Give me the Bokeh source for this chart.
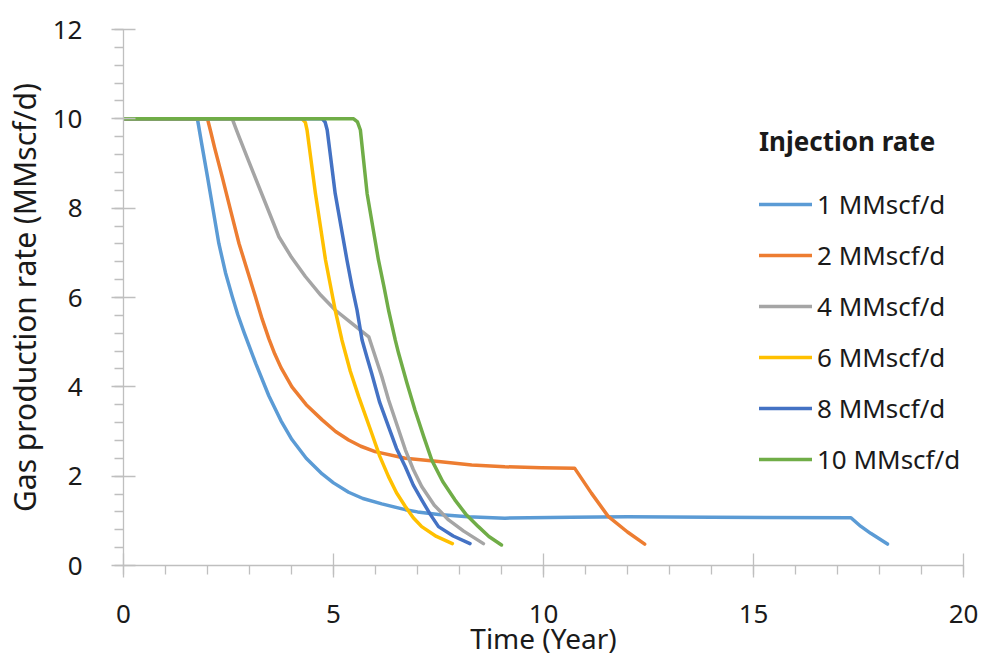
from bokeh.plotting import figure
from bokeh.models import Range1d, SingleIntervalTicker, Legend, LegendItem
from bokeh.embed import file_html
from bokeh.resources import INLINE

# ---- data ----
labels = ["1 MMscf/d", "2 MMscf/d", "4 MMscf/d", "6 MMscf/d", "8 MMscf/d", "10 MMscf/d"]
colors = ["#5B9BD5", "#ED7D31", "#A5A5A5", "#FFC000", "#4472C4", "#70AD47"]

x1 = [0, 1.76, 1.86, 2.0, 2.13, 2.27, 2.43, 2.59, 2.72, 2.87, 3.15, 3.46, 3.75, 4.01, 4.35, 4.73,
      5.0, 5.36, 5.7, 6.15, 6.71, 7.0, 7.50, 8.2, 9.08, 10.66, 12.0, 14.0, 17.32, 17.55, 17.79, 18.19]
y1 = [10, 10, 9.45, 8.70, 7.98, 7.21, 6.55, 6.02, 5.62, 5.22, 4.52, 3.80, 3.24, 2.82, 2.40, 2.05,
      1.85, 1.64, 1.50, 1.38, 1.25, 1.2, 1.14, 1.09, 1.06, 1.08, 1.09, 1.08, 1.07, 0.88, 0.72, 0.48]

x2 = [0, 2.0, 2.08, 2.17, 2.35, 2.55, 2.75, 2.95, 3.14, 3.30, 3.46, 3.6, 3.75, 4.01, 4.35, 4.73,
      5.05, 5.36, 5.65, 5.99, 6.71, 7.50, 8.29, 9.08, 9.95, 10.74, 11.14, 11.54, 12.0, 12.41]
y2 = [10, 10, 9.7, 9.35, 8.70, 7.95, 7.21, 6.6, 6.02, 5.52, 5.08, 4.74, 4.43, 4.00, 3.6, 3.26,
      3.0, 2.81, 2.67, 2.55, 2.40, 2.33, 2.25, 2.21, 2.19, 2.18, 1.62, 1.10, 0.75, 0.48]

x4 = [0, 2.59, 2.67, 2.75, 2.99, 3.30, 3.70, 4.0, 4.33, 4.7, 5.04, 5.4, 5.84, 6.15, 6.31, 6.71,
      6.9, 7.10, 7.4, 7.74, 8.1, 8.57]
y4 = [10, 10, 9.8, 9.6, 9.03, 8.30, 7.36, 6.9, 6.47, 6.05, 5.72, 5.45, 5.12, 4.23, 3.71, 2.59,
      2.15, 1.77, 1.35, 1.02, 0.77, 0.49]

x6 = [0, 4.25, 4.33, 4.37, 4.57, 4.81, 5.04, 5.20, 5.4, 5.60, 5.91, 6.1, 6.31, 6.5, 6.71, 6.9,
      7.10, 7.45, 7.83]
y6 = [10, 10, 9.92, 9.75, 8.33, 6.84, 5.72, 5.05, 4.35, 3.78, 2.96, 2.45, 1.99, 1.63, 1.32, 1.07,
      0.87, 0.65, 0.49]

x8 = [0, 4.73, 4.80, 4.85, 4.94, 5.04, 5.32, 5.44, 5.56, 5.68, 5.8, 5.91, 6.1, 6.31, 6.5, 6.71,
      6.9, 7.10, 7.3, 7.50, 7.85, 8.25]
y8 = [10, 10, 9.93, 9.75, 9.08, 8.33, 6.84, 6.25, 5.72, 5.05, 4.65, 4.30, 3.65, 3.11, 2.62, 2.21,
      1.8, 1.47, 1.15, 0.87, 0.66, 0.49]

x10 = [0, 5.48, 5.57, 5.64, 5.80, 5.95, 6.07, 6.2, 6.31, 6.47, 6.55, 6.75, 6.94, 7.15, 7.34, 7.6,
       7.89, 8.15, 8.45, 8.7, 9.00]
y10 = [10, 10, 9.93, 9.75, 8.33, 7.5, 6.84, 6.25, 5.72, 5.05, 4.75, 4.08, 3.48, 2.88, 2.36, 1.88,
       1.47, 1.15, 0.87, 0.65, 0.46]

series_x = [x1, x2, x4, x6, x8, x10]
series_y = [y1, y2, y4, y6, y8, y10]

FONT = "Noto Sans"
FS = "26px"
TXT = "#1a1a1a"
AXIS_COLOR = "#BFBFBF"

p = figure(width=983, height=659, output_backend="svg", toolbar_location=None,
           x_range=Range1d(0, 20), y_range=Range1d(0, 12),
           min_border_left=121, min_border_right=20, min_border_top=29, min_border_bottom=94)
p.outline_line_color = None
p.grid.visible = False
p.background_fill_color = "white"
p.border_fill_color = "white"

p.xaxis.ticker = SingleIntervalTicker(interval=5, num_minor_ticks=5)
p.yaxis.ticker = SingleIntervalTicker(interval=2, num_minor_ticks=5)

for ax in (p.xaxis[0], p.yaxis[0]):
    ax.axis_line_color = AXIS_COLOR
    ax.axis_line_width = 1.3
    ax.major_tick_line_color = AXIS_COLOR
    ax.minor_tick_line_color = AXIS_COLOR
    ax.major_tick_line_width = 1.3
    ax.minor_tick_line_width = 1.3
    ax.major_tick_in = 12
    ax.major_tick_out = 12
    ax.minor_tick_in = 0
    ax.minor_tick_out = 9
    ax.major_label_text_font = FONT
    ax.major_label_text_font_size = FS
    ax.major_label_text_color = TXT
    ax.axis_label_text_font = FONT
    ax.axis_label_text_font_style = "normal"
    ax.axis_label_text_color = TXT

p.xaxis.axis_label = "Time (Year)"
p.yaxis.axis_label = "Gas production rate (MMscf/d)"
p.xaxis.axis_label_text_font_size = "28px"
p.yaxis.axis_label_text_font_size = "30px"
p.xaxis.major_label_standoff = 27
p.xaxis.axis_label_standoff = -7
p.yaxis.major_label_standoff = 29
p.yaxis.axis_label_standoff = 5

items = []
for xs, ys, c, lab in zip(series_x, series_y, colors, labels):
    r = p.line(xs, ys, line_color=c, line_width=3.5, line_join="round", line_cap="round")
    items.append(LegendItem(label=lab, renderers=[r]))

legend = Legend(items=items, location=(636, 88), title="Injection rate",
                title_text_font=FONT, title_text_font_size=FS, title_text_font_style="bold",
                title_text_color=TXT, title_standoff=27,
                label_text_font=FONT, label_text_font_size=FS, label_text_color=TXT,
                glyph_width=53, glyph_height=30, label_height=30, label_standoff=5,
                spacing=15, padding=0, margin=0,
                border_line_color=None, background_fill_alpha=0)
p.add_layout(legend)

open("out.html", "w").write(file_html(p, INLINE))
